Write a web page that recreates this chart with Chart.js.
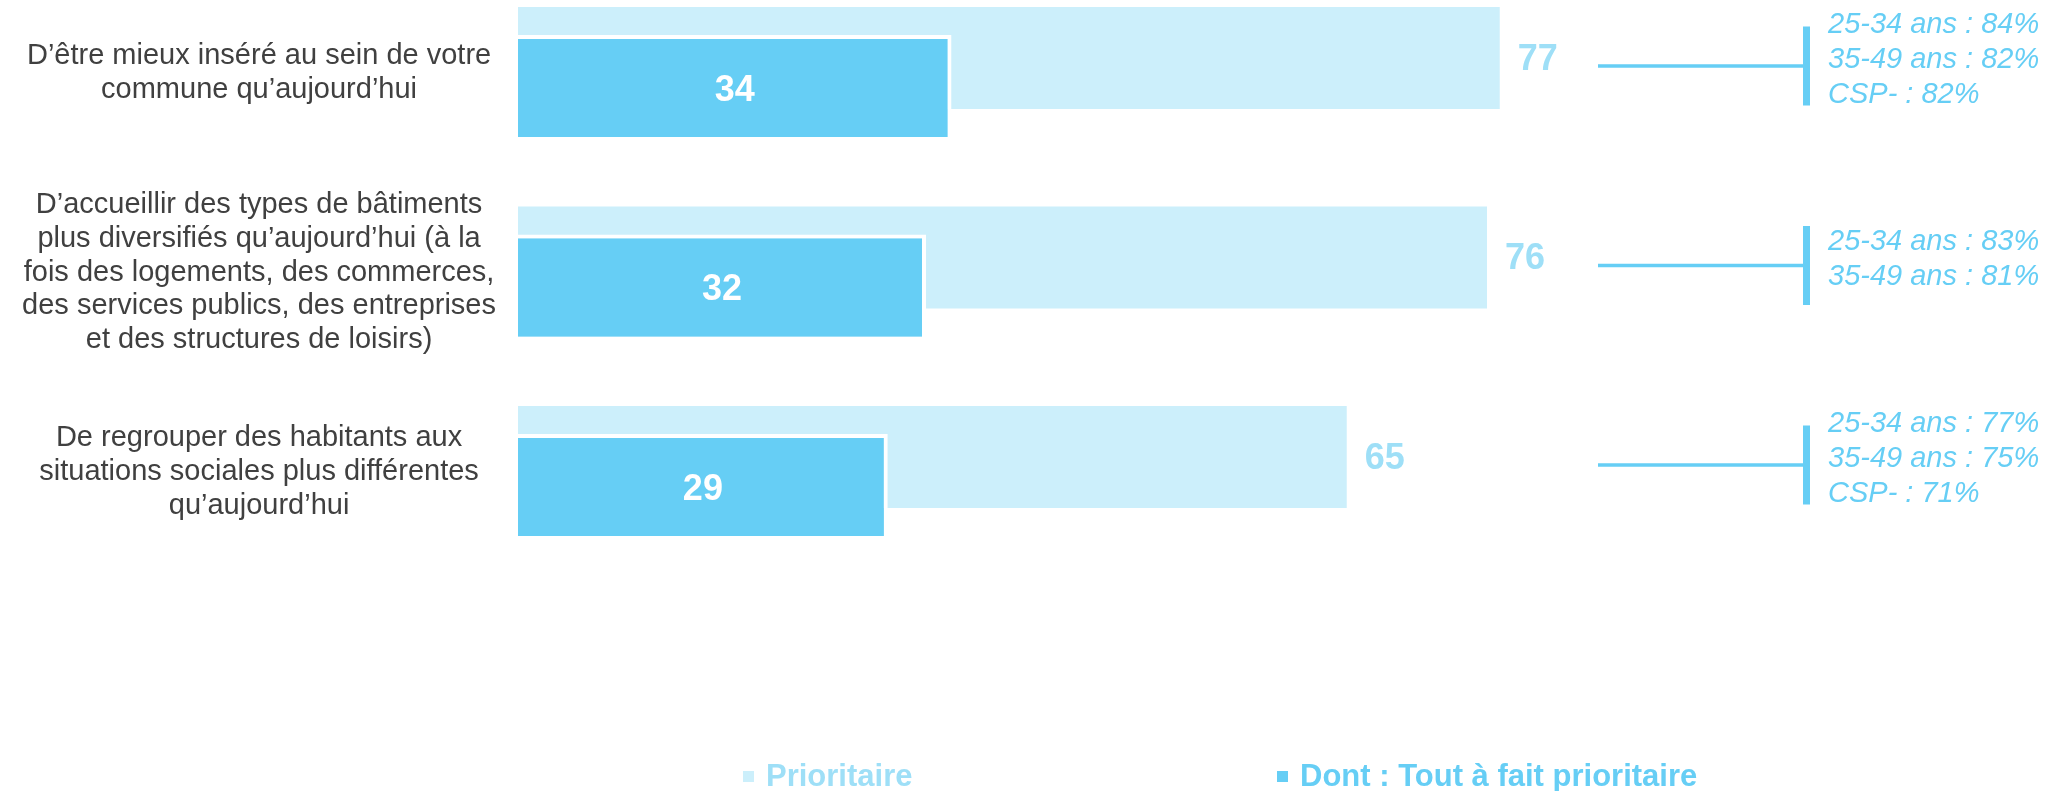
<!DOCTYPE html>
<html lang="fr">
<head>
<meta charset="UTF-8">
<title>Priorités pour la commune</title>
<script src="https://cdn.jsdelivr.net/npm/chart.js"></script>
<style>
  html, body { margin: 0; padding: 0; background: #fff; }
  #wrap { position: relative; width: 2060px; height: 791px; }
  #legend { position: absolute; left: 0; top: 759px; width: 2060px; height: 34px;
            font: bold 31px "Liberation Sans", Arial, sans-serif; }
  .item { position: absolute; top: 0; height: 34px; display: flex; align-items: center; white-space: nowrap; }
  .box { width: 11px; height: 11px; margin-right: 12px; }
</style>
</head>
<body>
<div id="wrap">
  <canvas id="chart" width="2060" height="791"></canvas>
  <div id="legend"></div>
</div>

<script>
// données
const categories = [
  ["D’être mieux inséré au sein de votre", "commune qu’aujourd’hui"],
  ["D’accueillir des types de bâtiments", "plus diversifiés qu’aujourd’hui (à la",
   "fois des logements, des commerces,", "des services publics, des entreprises",
   "et des structures de loisirs)"],
  ["De regrouper des habitants aux", "situations sociales plus différentes", "qu’aujourd’hui"]
];
const seriesNames = ["Prioritaire", "Dont : Tout à fait prioritaire"];
const prioritaire = [77, 76, 65];
const toutAFait = [34, 32, 29];
const sousGroupes = [
  ["25-34 ans : 84%", "35-49 ans : 82%", "CSP- : 82%"],
  ["25-34 ans : 83%", "35-49 ans : 81%"],
  ["25-34 ans : 77%", "35-49 ans : 75%", "CSP- : 71%"]
];

const LIGHT = '#CCEFFB';
const DARK = '#66CEF5';
const LIGHT_TEXT = '#9EDFF7';
const FONT = '"Liberation Sans", Arial, sans-serif';

// étiquettes de valeurs + accolades de sous-groupes
const overlay = {
  id: 'overlay',
  afterDatasetsDraw(chart) {
    const ctx = chart.ctx;
    const lightMeta = chart.getDatasetMeta(0);
    const darkMeta = chart.getDatasetMeta(1);
    // les barres foncées passent par-dessus les claires
    darkMeta.controller.draw();

    ctx.save();
    ctx.textBaseline = 'middle';
    ctx.font = 'bold 36px ' + FONT;
    lightMeta.data.forEach((bar, i) => {
      ctx.fillStyle = LIGHT_TEXT;
      ctx.textAlign = 'left';
      ctx.fillText(prioritaire[i], bar.x + 18, bar.y + 2);
    });
    darkMeta.data.forEach((bar, i) => {
      ctx.fillStyle = '#fff';
      ctx.textAlign = 'center';
      ctx.fillText(toutAFait[i], (bar.x + bar.base) / 2, bar.y + 3);
    });

    const right = chart.chartArea.right;
    const yScale = chart.scales.y;
    ctx.font = 'italic 29px ' + FONT;
    ctx.textAlign = 'left';
    sousGroupes.forEach((lines, i) => {
      const cy = yScale.getPixelForValue(i) - 7;
      ctx.strokeStyle = DARK;
      ctx.lineWidth = 3.5;
      ctx.beginPath();
      ctx.moveTo(right - 195, cy);
      ctx.lineTo(right + 12, cy);
      ctx.stroke();
      ctx.fillStyle = DARK;
      ctx.fillRect(right + 10, cy - 39.5, 7, 79);
      const top = cy - 6 - (lines.length - 1) * 35 / 2;
      lines.forEach((t, k) => ctx.fillText(t, right + 35, top + k * 35));
    });
    ctx.restore();
  }
};

const chart = new Chart(document.getElementById('chart'), {
  type: 'bar',
  data: {
    labels: categories,
    datasets: [
      {
        label: seriesNames[0],
        data: prioritaire,
        backgroundColor: LIGHT,
        borderWidth: 0,
        clip: false,
        categoryPercentage: 0.301,
        barPercentage: 3.4
      },
      {
        label: seriesNames[1],
        data: toutAFait,
        backgroundColor: DARK,
        borderColor: '#fff',
        borderWidth: 4,
        clip: false,
        categoryPercentage: 0.301,
        barPercentage: 3.533
      }
    ]
  },
  options: {
    indexAxis: 'y',
    responsive: false,
    animation: false,
    layout: { padding: { top: 73, bottom: 319, left: 0, right: 267 } },
    plugins: {
      legend: { display: false },
      tooltip: { enabled: false }
    },
    scales: {
      x: { display: false, min: 0, max: 100 },
      y: {
        offset: false,
        grid: { display: false, drawTicks: false },
        border: { display: false },
        ticks: {
          crossAlign: 'center',
          padding: 22,
          color: '#404040',
          font: { family: FONT, size: 29, lineHeight: 1.16 }
        },
        afterFit(axis) { axis.width = 518; }
      }
    }
  },
  plugins: [overlay]
});

// légende
const legendPos = [743, 1277];
const legendText = [LIGHT_TEXT, DARK];
const legend = document.getElementById('legend');
chart.data.datasets.forEach((ds, i) => {
  const item = document.createElement('div');
  item.className = 'item';
  item.style.left = legendPos[i] + 'px';
  item.style.color = legendText[i];
  item.innerHTML = '<span class="box" style="background:' + ds.backgroundColor + '"></span>' + ds.label;
  legend.appendChild(item);
});
</script>
</body>
</html>
